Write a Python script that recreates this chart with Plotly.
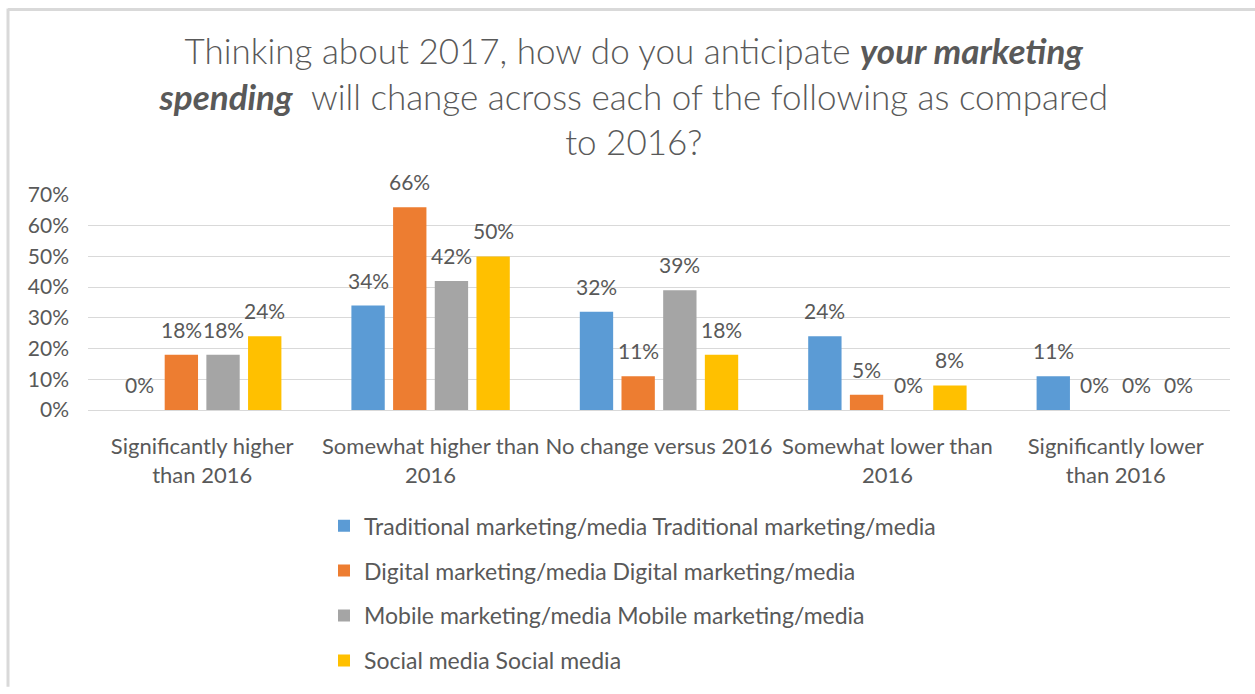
import plotly.graph_objects as go

# Survey answers (share of respondents) for each spending channel
categories = [
    "Significantly higher<br>than 2016",
    "Somewhat higher than<br>2016",
    "No change versus 2016",
    "Somewhat lower than<br>2016",
    "Significantly lower<br>than 2016",
]
series_names = [
    "Traditional marketing/media Traditional marketing/media",
    "Digital marketing/media Digital marketing/media",
    "Mobile marketing/media Mobile marketing/media",
    "Social media Social media",
]
traditional = [0.00, 0.34, 0.32, 0.24, 0.11]
digital = [0.18, 0.66, 0.11, 0.05, 0.00]
mobile = [0.18, 0.42, 0.39, 0.00, 0.00]
social = [0.24, 0.50, 0.18, 0.08, 0.00]
y_ticks = [0.0, 0.1, 0.2, 0.3, 0.4, 0.5, 0.6, 0.7]

colors = ["#5B9BD5", "#ED7D31", "#A5A5A5", "#FFC000"]
text_color = "#595959"
grid_color = "#D9D9D9"
font_family = "Lato"

W, H = 1255, 694
margin = dict(l=88, r=25, t=195, b=280)
bargap = 0.27
bargroupgap = 0.2

all_series = [traditional, digital, mobile, social]
xpos = list(range(len(categories)))

fig = go.Figure()
for k, (name, vals) in enumerate(zip(series_names, all_series)):
    fig.add_trace(go.Bar(
        x=xpos, y=vals, name=name,
        marker=dict(color=colors[k], line=dict(width=0)),
        legendgroup=f"g{k}",
        hoverinfo="skip",
    ))

# Value labels above each bar, placed at the centre of the bar's slot in the group
n = len(all_series)
slot = (1 - bargap) / n
annotations = []
for k, vals in enumerate(all_series):
    off = -0.5 * (1 - bargap) + (k + 0.5) * slot
    for i, v in enumerate(vals):
        annotations.append(dict(
            x=i + off, y=v, xref="x", yref="y",
            text=f"{round(v * 100)}%", showarrow=False,
            yanchor="bottom", xanchor="center", yshift=11,
            font=dict(family=font_family, size=21, color=text_color),
        ))

# Chart frame: thin grey rules along the top and left edges
pw = W - margin["l"] - margin["r"]
ph = H - margin["t"] - margin["b"]
def px_x(px):
    return (px - margin["l"]) / pw
def px_y(py):
    return (H - margin["b"] - py) / ph

shapes = [
    dict(type="line", xref="paper", yref="paper",
         x0=px_x(8), x1=px_x(W + 2), y0=px_y(6), y1=px_y(6),
         line=dict(color=grid_color, width=3)),
    dict(type="line", xref="paper", yref="paper",
         x0=px_x(8), x1=px_x(8), y0=px_y(5), y1=px_y(H + 2),
         line=dict(color=grid_color, width=3)),
]

title_text = (
    "Thinking about 2017, how do you anticipate <b><i>your marketing</i></b>"
    "<br><b><i>spending</i></b>  will change across each of the following as compared"
    "<br>to 2016?"
)

fig.update_layout(
    width=W, height=H,
    margin=margin,
    paper_bgcolor="white", plot_bgcolor="white",
    barmode="group", bargap=bargap, bargroupgap=bargroupgap,
    title=dict(
        text=title_text, x=0.505, xanchor="center", xref="container",
        y=1 - 64 / H, yanchor="top", yref="container",
        font=dict(family=font_family, size=35, color=text_color, weight=300),
    ),
    xaxis=dict(
        tickvals=xpos, ticktext=categories, range=[-0.5, len(categories) - 0.5],
        showgrid=False, zeroline=False, showline=False, ticks="",
        ticklabelstandoff=21,
        tickfont=dict(family=font_family, size=22, color=text_color),
        fixedrange=True,
    ),
    yaxis=dict(
        range=[0, 0.70], tickvals=y_ticks, tickformat=".0%",
        showgrid=True, gridcolor=grid_color, gridwidth=1,
        zeroline=True, zerolinecolor=grid_color, zerolinewidth=1,
        showline=False, ticks="", ticklabelstandoff=18,
        tickfont=dict(family=font_family, size=21, color=text_color),
        fixedrange=True,
    ),
    legend=dict(
        orientation="v", x=px_x(324), xanchor="left",
        y=px_y(510), yanchor="top", tracegroupgap=12, itemwidth=30,
        font=dict(family=font_family, size=23, color=text_color),
        bgcolor="rgba(0,0,0,0)",
    ),
    annotations=annotations,
    shapes=shapes,
)

fig.write_html("out.html")
